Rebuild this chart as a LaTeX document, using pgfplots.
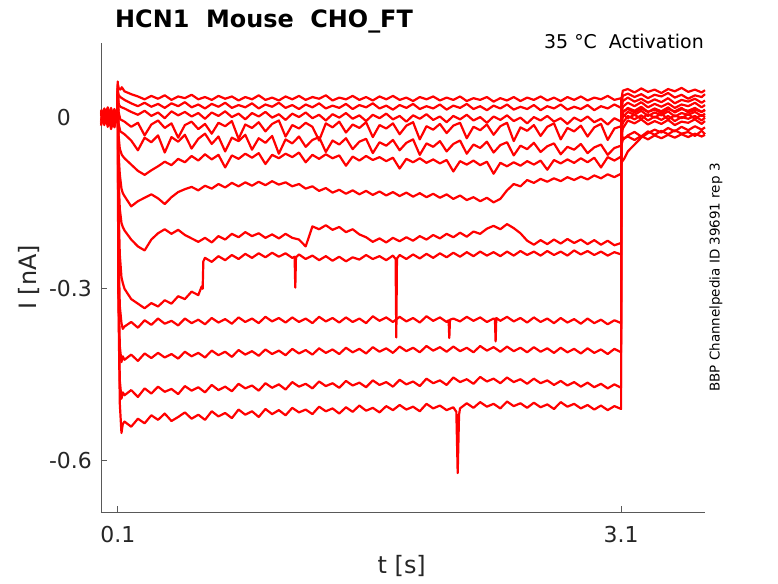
\documentclass[border=0pt]{standalone}
\usepackage{fontspec}
\setmainfont{DejaVu Sans}
\usepackage{pgfplots}
\pgfplotsset{compat=1.18}
\usetikzlibrary{calc}
\begin{document}
\begin{tikzpicture}
\begin{axis}[name=ax, scale only axis, width=604bp, height=469bp,
  xmin=0, xmax=3.6, ymin=-0.69, ymax=0.1294, clip=false,
  axis lines*=left, axis line style={black!65, line width=0.6bp, -},
  tick style={black!65, line width=0.6bp}, tick align=inside, major tick length=6bp,
  xtick={0.1,3.1}, xticklabels={0.1,3.1},
  ytick={-0.6,-0.3,0}, yticklabels={-0.6,-0.3,0\hphantom{.0}},
  ticklabel style={font=\fontsize{22}{22}\selectfont, text=black!85},
  xticklabel style={anchor=base, inner sep=0pt, yshift=-30bp},
  yticklabel style={anchor=east, inner sep=0pt, xshift=-9bp},
  xlabel={t [s]}, ylabel={I [nA]},
  xlabel style={at={(axis description cs:0.498,-0.115)}, anchor=center, font=\fontsize{24}{24}\selectfont, text=black!85},
  ylabel style={at={(axis description cs:-0.1192,0.5)}, anchor=center, font=\fontsize{24}{24}\selectfont, text=black!85},
  no markers,
  cycle list={red,mark=none,line width=2.2bp,line join=round\\},
]
% A
\addplot coordinates {(0,0.006) (0.02,-0.011) (0.04,0.009) (0.06,-0.004) (0.08,0.012) (0.099,-0.006) (0.1,0.03) (0.103,-0.30) (0.112,-0.50) (0.122,-0.552) (0.13,-0.536)
(0.14,-0.532) (0.18,-0.541) (0.22,-0.527) (0.26,-0.535) (0.30,-0.521) (0.34,-0.529) (0.38,-0.518) (0.42,-0.531) (0.46,-0.524) (0.50,-0.516) (0.54,-0.527) (0.58,-0.520) (0.62,-0.529) (0.66,-0.514) (0.70,-0.523) (0.74,-0.517) (0.78,-0.526) (0.82,-0.511) (0.86,-0.520) (0.90,-0.514) (0.94,-0.524) (0.98,-0.510) (1.02,-0.519) (1.06,-0.512) (1.10,-0.521) (1.14,-0.508) (1.18,-0.516) (1.22,-0.511) (1.26,-0.519) (1.30,-0.506) (1.34,-0.514) (1.38,-0.509) (1.42,-0.518) (1.46,-0.507) (1.50,-0.515) (1.54,-0.504) (1.58,-0.513) (1.62,-0.508) (1.66,-0.516) (1.70,-0.505) (1.74,-0.512) (1.78,-0.503) (1.82,-0.511) (1.86,-0.506) (1.90,-0.514) (1.94,-0.501) (1.98,-0.509) (2.02,-0.504) (2.06,-0.512) (2.10,-0.507) (2.118,-0.515) (2.126,-0.622) (2.134,-0.52) (2.14,-0.509) (2.18,-0.500) (2.22,-0.508) (2.26,-0.498) (2.30,-0.506) (2.34,-0.501) (2.38,-0.509) (2.42,-0.497) (2.46,-0.505) (2.50,-0.500) (2.54,-0.508) (2.58,-0.499) (2.62,-0.507) (2.66,-0.502) (2.70,-0.510) (2.74,-0.498) (2.78,-0.506) (2.82,-0.501) (2.86,-0.509) (2.90,-0.503) (2.94,-0.511) (2.98,-0.504) (3.02,-0.512) (3.06,-0.505) (3.10,-0.510)
(3.101,0.03) (3.11,0.046) (3.14,0.049) (3.18,0.043) (3.22,0.050) (3.26,0.044) (3.30,0.048) (3.34,0.042) (3.38,0.049) (3.42,0.045) (3.46,0.051) (3.50,0.044) (3.54,0.048) (3.58,0.043) (3.60,0.047)};
% B
\addplot coordinates {(0,-0.008) (0.02,0.010) (0.04,-0.013) (0.06,0.005) (0.08,-0.009) (0.099,0.007) (0.1,0.035) (0.104,-0.30) (0.112,-0.46) (0.122,-0.492) (0.13,-0.481)
(0.14,-0.486) (0.18,-0.477) (0.22,-0.489) (0.26,-0.474) (0.30,-0.483) (0.34,-0.471) (0.38,-0.480) (0.42,-0.475) (0.46,-0.484) (0.50,-0.470) (0.54,-0.478) (0.58,-0.472) (0.62,-0.481) (0.66,-0.468) (0.70,-0.477) (0.74,-0.471) (0.78,-0.479) (0.82,-0.466) (0.86,-0.474) (0.90,-0.469) (0.94,-0.478) (0.98,-0.465) (1.02,-0.473) (1.06,-0.467) (1.10,-0.476) (1.14,-0.463) (1.18,-0.471) (1.22,-0.466) (1.26,-0.474) (1.30,-0.462) (1.34,-0.470) (1.38,-0.465) (1.42,-0.473) (1.46,-0.461) (1.50,-0.469) (1.54,-0.464) (1.58,-0.472) (1.62,-0.460) (1.66,-0.468) (1.70,-0.463) (1.74,-0.471) (1.78,-0.459) (1.82,-0.467) (1.86,-0.462) (1.90,-0.470) (1.94,-0.457) (1.98,-0.465) (2.02,-0.460) (2.06,-0.468) (2.10,-0.455) (2.14,-0.463) (2.18,-0.458) (2.22,-0.466) (2.26,-0.454) (2.30,-0.462) (2.34,-0.457) (2.38,-0.465) (2.42,-0.455) (2.46,-0.463) (2.50,-0.458) (2.54,-0.466) (2.58,-0.457) (2.62,-0.465) (2.66,-0.460) (2.70,-0.468) (2.74,-0.461) (2.78,-0.469) (2.82,-0.463) (2.86,-0.471) (2.90,-0.464) (2.94,-0.472) (2.98,-0.466) (3.02,-0.474) (3.06,-0.467) (3.10,-0.473)
(3.101,0.02) (3.11,0.037) (3.14,0.041) (3.18,0.035) (3.22,0.040) (3.26,0.033) (3.30,0.039) (3.34,0.036) (3.38,0.042) (3.42,0.034) (3.46,0.039) (3.50,0.032) (3.54,0.038) (3.58,0.035) (3.60,0.040)};
% C
\addplot coordinates {(0,0.011) (0.02,-0.006) (0.04,0.004) (0.06,-0.015) (0.08,0.008) (0.099,-0.002) (0.1,0.04) (0.104,-0.28) (0.112,-0.40) (0.122,-0.428) (0.13,-0.418)
(0.14,-0.424) (0.18,-0.415) (0.22,-0.426) (0.26,-0.413) (0.30,-0.421) (0.34,-0.412) (0.38,-0.420) (0.42,-0.414) (0.46,-0.422) (0.50,-0.410) (0.54,-0.418) (0.58,-0.412) (0.62,-0.420) (0.66,-0.408) (0.70,-0.416) (0.74,-0.410) (0.78,-0.419) (0.82,-0.407) (0.86,-0.415) (0.90,-0.409) (0.94,-0.417) (0.98,-0.406) (1.02,-0.414) (1.06,-0.408) (1.10,-0.416) (1.14,-0.405) (1.18,-0.413) (1.22,-0.407) (1.26,-0.415) (1.30,-0.404) (1.34,-0.412) (1.38,-0.406) (1.42,-0.414) (1.46,-0.403) (1.50,-0.411) (1.54,-0.405) (1.58,-0.413) (1.62,-0.402) (1.66,-0.410) (1.70,-0.404) (1.74,-0.412) (1.78,-0.401) (1.82,-0.409) (1.86,-0.403) (1.90,-0.411) (1.94,-0.400) (1.98,-0.408) (2.02,-0.402) (2.06,-0.410) (2.10,-0.401) (2.14,-0.409) (2.18,-0.403) (2.22,-0.411) (2.26,-0.400) (2.30,-0.408) (2.34,-0.402) (2.38,-0.410) (2.42,-0.401) (2.46,-0.409) (2.50,-0.403) (2.54,-0.411) (2.58,-0.402) (2.62,-0.410) (2.66,-0.404) (2.70,-0.412) (2.74,-0.403) (2.78,-0.411) (2.82,-0.405) (2.86,-0.413) (2.90,-0.404) (2.94,-0.412) (2.98,-0.406) (3.02,-0.414) (3.06,-0.405) (3.10,-0.411)
(3.101,0.01) (3.11,0.028) (3.14,0.034) (3.18,0.027) (3.22,0.032) (3.26,0.025) (3.30,0.031) (3.34,0.026) (3.38,0.033) (3.42,0.024) (3.46,0.030) (3.50,0.027) (3.54,0.032) (3.58,0.025) (3.60,0.029)};
% D
\addplot coordinates {(0,-0.003) (0.02,0.013) (0.04,-0.009) (0.06,0.010) (0.08,-0.012) (0.099,0.004) (0.1,0.045) (0.104,-0.22) (0.112,-0.33) (0.122,-0.36) (0.13,-0.37)
(0.14,-0.366) (0.18,-0.358) (0.22,-0.368) (0.26,-0.355) (0.30,-0.363) (0.34,-0.352) (0.38,-0.361) (0.42,-0.356) (0.46,-0.364) (0.50,-0.352) (0.54,-0.360) (0.58,-0.354) (0.62,-0.362) (0.66,-0.351) (0.70,-0.359) (0.74,-0.353) (0.78,-0.361) (0.82,-0.350) (0.86,-0.358) (0.90,-0.352) (0.94,-0.360) (0.98,-0.349) (1.02,-0.357) (1.06,-0.351) (1.10,-0.359) (1.14,-0.350) (1.18,-0.358) (1.22,-0.352) (1.26,-0.360) (1.30,-0.349) (1.34,-0.357) (1.38,-0.351) (1.42,-0.359) (1.46,-0.350) (1.50,-0.358) (1.54,-0.352) (1.58,-0.360) (1.62,-0.348) (1.66,-0.356) (1.70,-0.350) (1.74,-0.358) (1.78,-0.349) (1.82,-0.357) (1.86,-0.351) (1.90,-0.359) (1.94,-0.348) (1.98,-0.356) (2.02,-0.350) (2.06,-0.358) (2.072,-0.355) (2.076,-0.386) (2.080,-0.354) (2.10,-0.352) (2.14,-0.357) (2.18,-0.349) (2.22,-0.356) (2.26,-0.350) (2.30,-0.358) (2.34,-0.352) (2.348,-0.353) (2.352,-0.392) (2.356,-0.351) (2.38,-0.356) (2.42,-0.349) (2.46,-0.357) (2.50,-0.351) (2.54,-0.359) (2.58,-0.350) (2.62,-0.358) (2.66,-0.352) (2.70,-0.360) (2.74,-0.351) (2.78,-0.359) (2.82,-0.353) (2.86,-0.361) (2.90,-0.352) (2.94,-0.360) (2.98,-0.354) (3.02,-0.362) (3.06,-0.355) (3.10,-0.360)
(3.101,0.0) (3.11,0.018) (3.14,0.025) (3.18,0.019) (3.22,0.026) (3.26,0.017) (3.30,0.023) (3.34,0.018) (3.38,0.024) (3.42,0.016) (3.46,0.022) (3.50,0.019) (3.54,0.025) (3.58,0.017) (3.60,0.021)};
% E
\addplot coordinates {(0,0.008) (0.02,-0.014) (0.04,0.012) (0.06,-0.007) (0.08,0.003) (0.099,-0.010) (0.1,0.03) (0.104,-0.15) (0.112,-0.24) (0.122,-0.28) (0.13,-0.29)
(0.14,-0.300) (0.18,-0.318) (0.22,-0.326) (0.26,-0.334) (0.30,-0.325) (0.34,-0.331) (0.38,-0.320) (0.42,-0.326) (0.46,-0.313) (0.50,-0.318) (0.54,-0.305) (0.58,-0.311) (0.60,-0.296) (0.606,-0.300) (0.61,-0.252) (0.62,-0.246) (0.66,-0.253) (0.70,-0.243) (0.74,-0.250) (0.78,-0.241) (0.82,-0.248) (0.86,-0.239) (0.90,-0.246) (0.94,-0.238) (0.98,-0.245) (1.02,-0.237) (1.06,-0.244) (1.10,-0.238) (1.14,-0.246) (1.154,-0.244) (1.158,-0.298) (1.162,-0.245) (1.18,-0.240) (1.22,-0.248) (1.26,-0.242) (1.30,-0.250) (1.34,-0.243) (1.38,-0.251) (1.42,-0.244) (1.46,-0.252) (1.50,-0.245) (1.54,-0.249) (1.58,-0.241) (1.62,-0.248) (1.66,-0.243) (1.70,-0.250) (1.74,-0.242) (1.756,-0.248) (1.76,-0.385) (1.764,-0.247) (1.78,-0.241) (1.82,-0.248) (1.86,-0.240) (1.90,-0.247) (1.94,-0.239) (1.98,-0.246) (2.02,-0.238) (2.06,-0.245) (2.10,-0.237) (2.14,-0.244) (2.18,-0.236) (2.22,-0.243) (2.26,-0.235) (2.30,-0.242) (2.34,-0.236) (2.38,-0.243) (2.42,-0.235) (2.46,-0.242) (2.50,-0.234) (2.54,-0.241) (2.58,-0.235) (2.62,-0.242) (2.66,-0.234) (2.70,-0.241) (2.74,-0.235) (2.78,-0.242) (2.82,-0.233) (2.86,-0.240) (2.90,-0.234) (2.94,-0.241) (2.98,-0.235) (3.02,-0.242) (3.06,-0.236) (3.10,-0.240)
(3.101,-0.01) (3.11,0.008) (3.14,0.016) (3.18,0.011) (3.22,0.018) (3.26,0.009) (3.30,0.015) (3.34,0.010) (3.38,0.017) (3.42,0.008) (3.46,0.014) (3.50,0.011) (3.54,0.016) (3.58,0.009) (3.60,0.013)};
% F
\addplot coordinates {(0,-0.012) (0.02,0.005) (0.04,-0.004) (0.06,0.014) (0.08,-0.006) (0.099,0.009) (0.1,0.05) (0.104,-0.10) (0.112,-0.16) (0.122,-0.185) (0.13,-0.192)
(0.14,-0.198) (0.18,-0.214) (0.22,-0.226) (0.26,-0.233) (0.30,-0.214) (0.34,-0.203) (0.38,-0.196) (0.42,-0.204) (0.46,-0.197) (0.50,-0.206) (0.54,-0.212) (0.58,-0.218) (0.62,-0.211) (0.66,-0.219) (0.70,-0.208) (0.74,-0.214) (0.78,-0.204) (0.82,-0.210) (0.86,-0.201) (0.90,-0.208) (0.94,-0.203) (0.98,-0.211) (1.02,-0.205) (1.06,-0.212) (1.10,-0.204) (1.14,-0.211) (1.18,-0.214) (1.22,-0.226) (1.26,-0.191) (1.30,-0.196) (1.34,-0.189) (1.38,-0.197) (1.42,-0.192) (1.46,-0.201) (1.50,-0.196) (1.54,-0.205) (1.58,-0.210) (1.62,-0.218) (1.66,-0.212) (1.70,-0.219) (1.74,-0.211) (1.78,-0.217) (1.82,-0.210) (1.86,-0.216) (1.90,-0.208) (1.94,-0.214) (1.98,-0.206) (2.02,-0.212) (2.06,-0.204) (2.10,-0.210) (2.14,-0.202) (2.18,-0.209) (2.22,-0.200) (2.26,-0.204) (2.30,-0.195) (2.34,-0.190) (2.38,-0.196) (2.42,-0.187) (2.46,-0.194) (2.50,-0.203) (2.54,-0.216) (2.58,-0.223) (2.62,-0.215) (2.66,-0.222) (2.70,-0.214) (2.74,-0.221) (2.78,-0.213) (2.82,-0.220) (2.86,-0.214) (2.90,-0.222) (2.94,-0.215) (2.98,-0.223) (3.02,-0.216) (3.06,-0.224) (3.10,-0.220)
(3.101,-0.02) (3.11,0.0) (3.14,0.009) (3.18,0.004) (3.22,0.011) (3.26,0.002) (3.30,0.008) (3.34,0.003) (3.38,0.010) (3.42,0.001) (3.46,0.007) (3.50,0.004) (3.54,0.009) (3.58,0.002) (3.60,0.006)};
% G
\addplot coordinates {(0,0.004) (0.02,-0.008) (0.04,0.015) (0.06,-0.011) (0.08,0.006) (0.099,-0.004) (0.1,0.04) (0.104,-0.06) (0.112,-0.10) (0.122,-0.125) (0.13,-0.133)
(0.14,-0.138) (0.18,-0.156) (0.22,-0.147) (0.26,-0.141) (0.30,-0.135) (0.34,-0.142) (0.38,-0.152) (0.42,-0.140) (0.46,-0.131) (0.50,-0.126) (0.54,-0.122) (0.58,-0.128) (0.62,-0.120) (0.66,-0.125) (0.70,-0.117) (0.74,-0.123) (0.78,-0.115) (0.82,-0.121) (0.86,-0.114) (0.90,-0.120) (0.94,-0.113) (0.98,-0.119) (1.02,-0.112) (1.06,-0.118) (1.10,-0.114) (1.14,-0.121) (1.18,-0.117) (1.22,-0.125) (1.26,-0.121) (1.30,-0.129) (1.34,-0.124) (1.38,-0.132) (1.42,-0.127) (1.46,-0.134) (1.50,-0.128) (1.54,-0.135) (1.58,-0.129) (1.62,-0.136) (1.66,-0.130) (1.70,-0.137) (1.74,-0.131) (1.78,-0.138) (1.82,-0.132) (1.86,-0.139) (1.90,-0.133) (1.94,-0.140) (1.98,-0.134) (2.02,-0.141) (2.06,-0.135) (2.10,-0.143) (2.14,-0.137) (2.18,-0.145) (2.22,-0.140) (2.26,-0.147) (2.30,-0.141) (2.34,-0.149) (2.38,-0.143) (2.42,-0.128) (2.46,-0.117) (2.50,-0.121) (2.54,-0.110) (2.58,-0.115) (2.62,-0.108) (2.66,-0.113) (2.70,-0.107) (2.74,-0.112) (2.78,-0.105) (2.82,-0.110) (2.86,-0.104) (2.90,-0.109) (2.94,-0.102) (2.98,-0.107) (3.02,-0.100) (3.06,-0.105) (3.10,-0.099)
(3.101,-0.03) (3.11,-0.01) (3.14,0.002) (3.18,-0.004) (3.22,0.003) (3.26,-0.006) (3.30,0.001) (3.34,-0.005) (3.38,0.002) (3.42,-0.007) (3.46,0.000) (3.50,-0.003) (3.54,0.002) (3.58,-0.006) (3.60,-0.001)};
% H
\addplot coordinates {(0,-0.006) (0.02,0.012) (0.04,-0.017) (0.06,0.003) (0.08,0.010) (0.099,-0.008) (0.1,0.055) (0.104,-0.03) (0.112,-0.055) (0.124,-0.066)
(0.14,-0.072) (0.18,-0.083) (0.22,-0.094) (0.26,-0.101) (0.30,-0.093) (0.34,-0.086) (0.38,-0.078) (0.42,-0.084) (0.46,-0.073) (0.50,-0.079) (0.54,-0.068) (0.58,-0.076) (0.62,-0.065) (0.66,-0.074) (0.70,-0.066) (0.74,-0.088) (0.78,-0.067) (0.82,-0.073) (0.86,-0.064) (0.90,-0.071) (0.94,-0.063) (0.98,-0.082) (1.02,-0.066) (1.06,-0.072) (1.10,-0.064) (1.14,-0.070) (1.18,-0.062) (1.22,-0.079) (1.26,-0.066) (1.30,-0.073) (1.34,-0.065) (1.38,-0.072) (1.42,-0.067) (1.46,-0.085) (1.50,-0.069) (1.54,-0.076) (1.58,-0.068) (1.62,-0.075) (1.66,-0.070) (1.70,-0.077) (1.74,-0.071) (1.78,-0.090) (1.82,-0.073) (1.86,-0.079) (1.90,-0.072) (1.94,-0.080) (1.98,-0.074) (2.02,-0.081) (2.06,-0.075) (2.10,-0.095) (2.14,-0.077) (2.18,-0.083) (2.22,-0.076) (2.26,-0.084) (2.30,-0.078) (2.34,-0.099) (2.38,-0.080) (2.42,-0.086) (2.46,-0.079) (2.50,-0.085) (2.54,-0.077) (2.58,-0.083) (2.62,-0.076) (2.66,-0.092) (2.70,-0.075) (2.74,-0.081) (2.78,-0.074) (2.82,-0.080) (2.86,-0.072) (2.90,-0.079) (2.94,-0.071) (2.98,-0.088) (3.02,-0.070) (3.06,-0.076) (3.10,-0.069)
(3.101,-0.04) (3.11,-0.02) (3.14,-0.006) (3.18,-0.011) (3.22,-0.004) (3.26,-0.013) (3.30,-0.007) (3.34,-0.012) (3.38,-0.005) (3.42,-0.014) (3.46,-0.008) (3.50,-0.010) (3.54,-0.004) (3.58,-0.012) (3.60,-0.007)};
% I
\addplot coordinates {(0,0.013) (0.02,-0.002) (0.04,0.007) (0.06,-0.021) (0.08,0.001) (0.099,0.011) (0.1,0.05) (0.104,-0.01) (0.115,-0.025)
(0.14,-0.030) (0.18,-0.041) (0.22,-0.058) (0.26,-0.036) (0.30,-0.044) (0.34,-0.032) (0.38,-0.062) (0.42,-0.035) (0.46,-0.043) (0.50,-0.031) (0.54,-0.055) (0.58,-0.038) (0.62,-0.029) (0.66,-0.047) (0.70,-0.034) (0.74,-0.060) (0.78,-0.036) (0.82,-0.042) (0.86,-0.031) (0.90,-0.057) (0.94,-0.037) (0.98,-0.045) (1.02,-0.033) (1.06,-0.064) (1.10,-0.039) (1.14,-0.046) (1.18,-0.034) (1.22,-0.052) (1.26,-0.040) (1.30,-0.035) (1.34,-0.061) (1.38,-0.041) (1.42,-0.048) (1.46,-0.037) (1.50,-0.056) (1.54,-0.043) (1.58,-0.038) (1.62,-0.063) (1.66,-0.044) (1.70,-0.050) (1.74,-0.040) (1.78,-0.058) (1.82,-0.045) (1.86,-0.039) (1.90,-0.066) (1.94,-0.046) (1.98,-0.052) (2.02,-0.042) (2.06,-0.060) (2.10,-0.047) (2.14,-0.041) (2.18,-0.064) (2.22,-0.048) (2.26,-0.054) (2.30,-0.043) (2.34,-0.062) (2.38,-0.049) (2.42,-0.044) (2.46,-0.067) (2.50,-0.050) (2.54,-0.056) (2.58,-0.045) (2.62,-0.061) (2.66,-0.051) (2.70,-0.046) (2.74,-0.065) (2.78,-0.052) (2.82,-0.057) (2.86,-0.047) (2.90,-0.063) (2.94,-0.053) (2.98,-0.048) (3.02,-0.066) (3.06,-0.054) (3.10,-0.050)
(3.101,-0.08) (3.12,-0.072) (3.14,-0.060) (3.18,-0.048) (3.22,-0.036) (3.26,-0.028) (3.30,-0.022) (3.34,-0.027) (3.38,-0.019) (3.42,-0.025) (3.46,-0.017) (3.50,-0.023) (3.54,-0.016) (3.58,-0.022) (3.60,-0.018)};
% J
\addplot coordinates {(0,-0.010) (0.02,0.003) (0.04,-0.006) (0.06,0.016) (0.08,-0.013) (0.099,0.002) (0.1,0.062) (0.104,0.01) (0.115,-0.004)
(0.14,-0.008) (0.18,-0.017) (0.22,-0.010) (0.26,-0.032) (0.30,-0.013) (0.34,-0.006) (0.38,-0.019) (0.42,-0.011) (0.46,-0.036) (0.50,-0.014) (0.54,-0.008) (0.58,-0.021) (0.62,-0.012) (0.66,-0.029) (0.70,-0.010) (0.74,-0.016) (0.78,-0.007) (0.82,-0.038) (0.86,-0.013) (0.90,-0.019) (0.94,-0.009) (0.98,-0.025) (1.02,-0.012) (1.06,-0.006) (1.10,-0.034) (1.14,-0.014) (1.18,-0.020) (1.22,-0.010) (1.26,-0.017) (1.30,-0.041) (1.34,-0.011) (1.38,-0.018) (1.42,-0.008) (1.46,-0.027) (1.50,-0.013) (1.54,-0.019) (1.58,-0.009) (1.62,-0.035) (1.66,-0.014) (1.70,-0.020) (1.74,-0.011) (1.78,-0.030) (1.82,-0.015) (1.86,-0.009) (1.90,-0.039) (1.94,-0.016) (1.98,-0.022) (2.02,-0.012) (2.06,-0.028) (2.10,-0.015) (2.14,-0.010) (2.18,-0.037) (2.22,-0.017) (2.26,-0.023) (2.30,-0.013) (2.34,-0.031) (2.38,-0.016) (2.42,-0.010) (2.46,-0.042) (2.50,-0.018) (2.54,-0.024) (2.58,-0.014) (2.62,-0.033) (2.66,-0.017) (2.70,-0.011) (2.74,-0.039) (2.78,-0.019) (2.82,-0.025) (2.86,-0.015) (2.90,-0.034) (2.94,-0.018) (2.98,-0.012) (3.02,-0.040) (3.06,-0.020) (3.10,-0.016)
(3.101,-0.05) (3.11,-0.04) (3.14,-0.032) (3.18,-0.026) (3.22,-0.034) (3.26,-0.025) (3.30,-0.031) (3.34,-0.024) (3.38,-0.030) (3.42,-0.023) (3.46,-0.029) (3.50,-0.026) (3.54,-0.033) (3.58,-0.024) (3.60,-0.030)};
% K
\addplot coordinates {(0,0.002) (0.02,0.015) (0.04,-0.003) (0.06,0.009) (0.08,-0.001) (0.099,0.012) (0.1,0.058) (0.106,0.05) (0.115,0.048) (0.124,0.052)
(0.14,0.045) (0.18,0.040) (0.22,0.036) (0.26,0.031) (0.30,0.037) (0.34,0.032) (0.38,0.038) (0.42,0.030) (0.46,0.036) (0.50,0.033) (0.54,0.039) (0.58,0.031) (0.62,0.035) (0.66,0.030) (0.70,0.037) (0.74,0.032) (0.78,0.036) (0.82,0.029) (0.86,0.035) (0.90,0.031) (0.94,0.038) (0.98,0.030) (1.02,0.034) (1.06,0.029) (1.10,0.036) (1.14,0.031) (1.18,0.037) (1.22,0.030) (1.26,0.035) (1.30,0.032) (1.34,0.038) (1.38,0.029) (1.42,0.034) (1.46,0.031) (1.50,0.037) (1.54,0.030) (1.58,0.035) (1.62,0.029) (1.66,0.036) (1.70,0.031) (1.74,0.037) (1.78,0.030) (1.82,0.034) (1.86,0.028) (1.90,0.035) (1.94,0.031) (1.98,0.036) (2.02,0.029) (2.06,0.034) (2.10,0.030) (2.14,0.036) (2.18,0.028) (2.22,0.033) (2.26,0.030) (2.30,0.035) (2.34,0.027) (2.38,0.033) (2.42,0.029) (2.46,0.035) (2.50,0.028) (2.54,0.034) (2.58,0.030) (2.62,0.036) (2.66,0.029) (2.70,0.034) (2.74,0.028) (2.78,0.035) (2.82,0.030) (2.86,0.036) (2.90,0.029) (2.94,0.034) (2.98,0.031) (3.02,0.037) (3.06,0.030) (3.10,0.033)
(3.101,-0.02) (3.11,-0.038) (3.14,-0.034) (3.18,-0.040) (3.22,-0.033) (3.26,-0.039) (3.30,-0.032) (3.34,-0.037) (3.38,-0.031) (3.42,-0.036) (3.46,-0.030) (3.50,-0.035) (3.54,-0.029) (3.58,-0.034) (3.60,-0.031)};
% L
\addplot coordinates {(0,0.009) (0.02,-0.004) (0.04,0.017) (0.06,0.000) (0.08,0.014) (0.099,-0.003) (0.1,0.045) (0.106,0.038) (0.115,0.035)
(0.14,0.030) (0.18,0.024) (0.22,0.019) (0.26,0.025) (0.30,0.018) (0.34,0.023) (0.38,0.016) (0.42,0.024) (0.46,0.019) (0.50,0.026) (0.54,0.017) (0.58,0.022) (0.62,0.015) (0.66,0.023) (0.70,0.018) (0.74,0.025) (0.78,0.016) (0.82,0.021) (0.86,0.017) (0.90,0.024) (0.94,0.015) (0.98,0.022) (1.02,0.018) (1.06,0.025) (1.10,0.016) (1.14,0.021) (1.18,0.014) (1.22,0.022) (1.26,0.017) (1.30,0.024) (1.34,0.015) (1.38,0.020) (1.42,0.016) (1.46,0.023) (1.50,0.014) (1.54,0.021) (1.58,0.017) (1.62,0.024) (1.66,0.015) (1.70,0.020) (1.74,0.013) (1.78,0.021) (1.82,0.016) (1.86,0.023) (1.90,0.014) (1.94,0.019) (1.98,0.015) (2.02,0.022) (2.06,0.013) (2.10,0.020) (2.14,0.016) (2.18,0.023) (2.22,0.014) (2.26,0.019) (2.30,0.012) (2.34,0.020) (2.38,0.015) (2.42,0.022) (2.46,0.013) (2.50,0.018) (2.54,0.014) (2.58,0.021) (2.62,0.012) (2.66,0.019) (2.70,0.015) (2.74,0.022) (2.78,0.013) (2.82,0.018) (2.86,0.014) (2.90,0.021) (2.94,0.012) (2.98,0.019) (3.02,0.015) (3.06,0.022) (3.10,0.016)
(3.101,0.01) (3.11,0.005) (3.14,-0.002) (3.18,0.004) (3.22,-0.003) (3.26,0.005) (3.30,-0.001) (3.34,0.006) (3.38,-0.004) (3.42,0.003) (3.46,-0.002) (3.50,0.005) (3.54,-0.003) (3.58,0.004) (3.60,0.000)};
% M
\addplot coordinates {(0,-0.015) (0.02,0.007) (0.04,-0.010) (0.06,0.012) (0.08,-0.018) (0.099,0.005) (0.1,0.04) (0.106,0.022) (0.115,0.018)
(0.14,0.015) (0.18,0.009) (0.22,0.004) (0.26,0.011) (0.30,0.002) (0.34,0.008) (0.38,-0.002) (0.42,0.010) (0.46,0.003) (0.50,0.009) (0.54,0.001) (0.58,0.007) (0.62,-0.003) (0.66,0.008) (0.70,0.002) (0.74,0.010) (0.78,0.000) (0.82,0.006) (0.86,-0.004) (0.90,0.007) (0.94,0.001) (0.98,0.009) (1.02,-0.001) (1.06,0.005) (1.10,-0.005) (1.14,0.006) (1.18,0.000) (1.22,0.008) (1.26,-0.002) (1.30,0.004) (1.34,-0.006) (1.38,0.005) (1.42,-0.001) (1.46,0.007) (1.50,-0.003) (1.54,0.003) (1.58,-0.007) (1.62,0.004) (1.66,-0.002) (1.70,0.006) (1.74,-0.004) (1.78,0.002) (1.82,-0.008) (1.86,0.003) (1.90,-0.003) (1.94,0.005) (1.98,-0.005) (2.02,0.001) (2.06,-0.009) (2.10,0.002) (2.14,-0.004) (2.18,0.004) (2.22,-0.006) (2.26,0.000) (2.30,-0.010) (2.34,0.001) (2.38,-0.005) (2.42,0.003) (2.46,-0.007) (2.50,-0.001) (2.54,-0.011) (2.58,0.000) (2.62,-0.006) (2.66,0.002) (2.70,-0.008) (2.74,-0.002) (2.78,-0.012) (2.82,-0.001) (2.86,-0.007) (2.90,0.001) (2.94,-0.009) (2.98,-0.003) (3.02,-0.013) (3.06,-0.002) (3.10,-0.008)
(3.101,0.0) (3.11,0.010) (3.14,0.014) (3.18,0.008) (3.22,0.015) (3.26,0.009) (3.30,0.013) (3.34,0.007) (3.38,0.014) (3.42,0.010) (3.46,0.016) (3.50,0.008) (3.54,0.013) (3.58,0.009) (3.60,0.012)};
% texts
\node[anchor=base west, inner sep=0pt, font=\fontsize{24}{24}\selectfont\bfseries, text=black] at (rel axis cs:0.0232,1.0341) {HCN1\ \ Mouse\ \ CHO\_FT};
\node[anchor=base east, inner sep=0pt, font=\fontsize{19}{19}\selectfont, text=black] at (rel axis cs:0.9983,0.9893) {35 °C\ \ Activation};
\node[rotate=90, anchor=center, inner sep=0pt, font=\fontsize{13.5}{13.5}\selectfont, text=black] at (rel axis cs:1.0182,0.5) {BBP Channelpedia ID 39691 rep 3};
\end{axis}
\path ($(ax.south west)+(-101bp,-71bp)$) rectangle ($(ax.north east)+(73bp,43bp)$);
\end{tikzpicture}
\end{document}
